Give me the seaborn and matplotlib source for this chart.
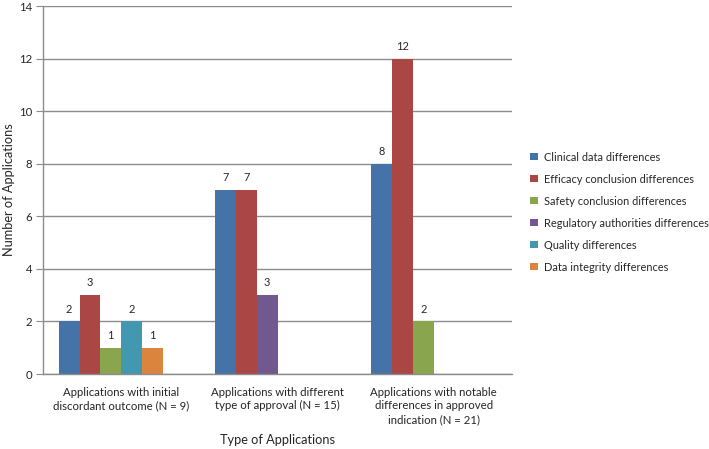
import numpy as np
import pandas as pd
import matplotlib
matplotlib.use("Agg")
import matplotlib.pyplot as plt
import matplotlib.patches as mpatches
import seaborn as sns

# ---- data ----
groups = [
    "Applications with initial\ndiscordant outcome (N = 9)",
    "Applications with different\ntype of approval (N = 15)",
    "Applications with notable\ndifferences in approved\nindication (N = 21)",
]
series = [
    "Clinical data differences",
    "Efficacy conclusion differences",
    "Safety conclusion differences",
    "Regulatory authorities differences",
    "Quality differences",
    "Data integrity differences",
]
clinical = [2, 7, 8]
efficacy = [3, 7, 12]
safety = [1, 0, 2]
regulatory = [0, 3, 0]
quality = [2, 0, 0]
integrity = [1, 0, 0]
colors = ["#4572A7", "#AA4643", "#89A54E", "#71588F", "#4198AF", "#DB843D"]

values = [clinical, efficacy, safety, regulatory, quality, integrity]

# bars are packed to the left of each group (empty series take no slot)
rows = []
for gi, g in enumerate(groups):
    slot = 0
    for si, s in enumerate(series):
        v = values[si][gi]
        if v > 0:
            rows.append({"group": g, "series": s, "slot": slot, "value": v})
            slot += 1
df = pd.DataFrame(rows)

sns.set_style("white")
plt.rcParams["font.family"] = ["Lato", "DejaVu Sans"]
TXT = "#262626"
FS = 7.9

fig = plt.figure(figsize=(7.09, 4.49), dpi=100)
ax = fig.add_axes([0.0607, 0.167, 0.6615, 0.8196])

sns.barplot(data=df, x="group", y="value", hue="slot", hue_order=list(range(6)),
            order=groups, dodge=True, width=0.8, gap=0, legend=False,
            palette=["#888888"] * 6, ax=ax, saturation=1, errorbar=None)

# recolor each bar by its series
slot_w = 0.8 / 6
color_of = {s: c for s, c in zip(series, colors)}
for cont in ax.containers:
    for bar in cont:
        h = bar.get_height()
        if np.isnan(h) or h == 0:
            continue
        xc = bar.get_x() + bar.get_width() / 2
        gi = int(round(xc))
        slot = int(round((xc - gi + 0.4) / slot_w - 0.5))
        sel = df[(df["group"] == groups[gi]) & (df["slot"] == slot)]
        if len(sel):
            bar.set_facecolor(color_of[sel["series"].iloc[0]])
            bar.set_edgecolor("none")
    ax.bar_label(cont, fmt="%g", padding=5, fontsize=FS, color=TXT)

ax.set_xlim(-0.5, 2.5)
ax.set_ylim(0, 14)
ax.set_yticks(range(0, 15, 2))
ax.yaxis.grid(True, color="#8c8c8c", linewidth=1)
ax.set_axisbelow(True)

ax.set_xticks(range(3))
ax.set_xticklabels(groups, fontsize=FS + 0.3, color=TXT, linespacing=1.3)
ax.set_xticks([-0.5, 0.5, 1.5, 2.5], minor=True)
ax.tick_params(axis="x", which="major", length=0, pad=9)
ax.tick_params(axis="x", which="minor", length=4, color="#8c8c8c", direction="out")
ax.tick_params(axis="y", length=5, color="#8c8c8c", direction="out", labelsize=FS + 0.3,
               labelcolor=TXT, left=True, pad=3)

for side in ["top", "right"]:
    ax.spines[side].set_visible(False)
for side in ["left", "bottom"]:
    ax.spines[side].set_color("#8c8c8c")
    ax.spines[side].set_linewidth(1)

ax.set_xlabel("Type of Applications", fontsize=9.2, color=TXT)
ax.xaxis.set_label_coords(0.5, -0.163)
ax.set_ylabel("Number of Applications", fontsize=9.2, color=TXT)
ax.yaxis.set_label_coords(-0.06, 0.5)

handles = [mpatches.Patch(facecolor=c, edgecolor="none", label=s) for s, c in zip(series, colors)]
fig.legend(handles=handles, loc="upper left", bbox_to_anchor=(0.742, 0.672),
           frameon=False, fontsize=FS, handlelength=0.65, handleheight=0.65,
           handletextpad=0.55, labelspacing=1.0, borderaxespad=0)

fig.savefig("out.png", dpi=100)
